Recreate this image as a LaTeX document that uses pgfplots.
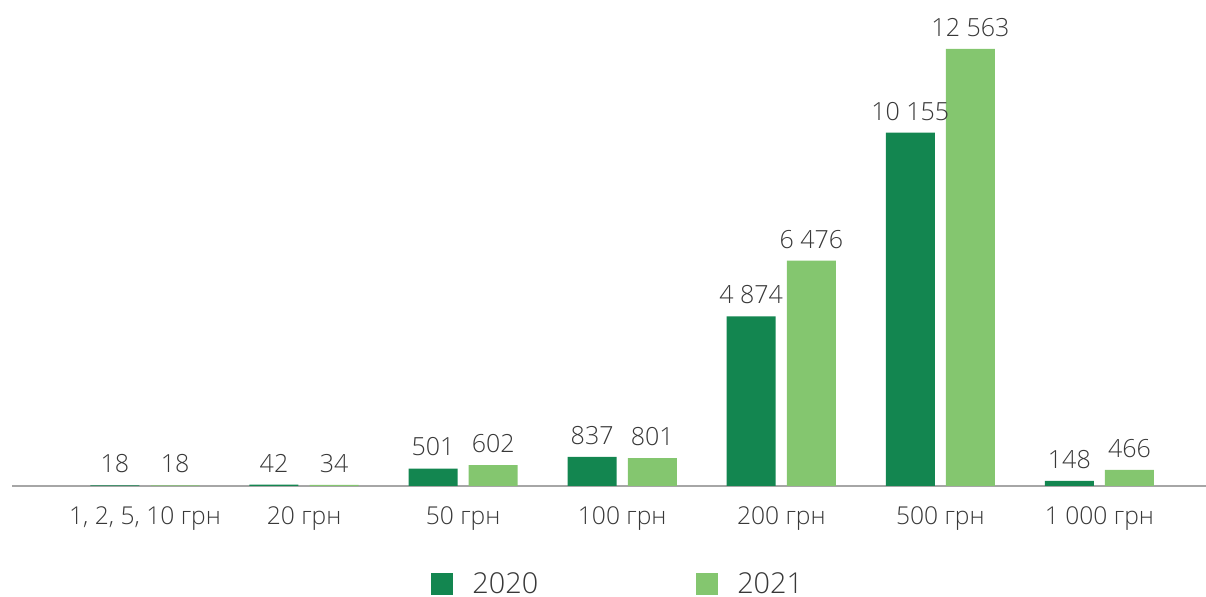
\documentclass[border=0pt]{standalone}
\usepackage{pgfplots}
\pgfplotsset{compat=1.18}
\usepackage{fontspec}
\setmainfont{Open Sans Light}
\definecolor{dg}{HTML}{138650}
\definecolor{lg}{HTML}{84C66F}
\definecolor{tx}{HTML}{383838}
\definecolor{axc}{HTML}{A6A6A6}
\pgfplotstableread{
x y2020 y2021
0 18 18
1 42 34
2 501 602
3 837 801
4 4874 6476
5 10155 12563
6 148 466
}\datatable
\begin{document}
\begin{tikzpicture}
\path[use as bounding box] (0pt,0pt) rectangle (603pt,298.5pt);
\begin{axis}[
  at={(6pt,55.5pt)}, anchor=south west,
  scale only axis, width=597pt, height=226.1pt,
  xmin=-0.836, xmax=6.67, ymin=0, ymax=13000,
  axis x line=bottom, axis y line=none,
  x axis line style={-, draw=axc, line width=1pt},
  xtick={0,...,6},
  xticklabels={{1, 2, 5, 10 грн},{20 грн},{50 грн},{100 грн},{200 грн},{500 грн},{1 000 грн}},
  major tick length=0pt,
  xticklabel style={font=\fontsize{12.3}{14}\selectfont, text=tx, yshift=-7pt},
  ytick=\empty,
  ybar, bar width=0.308,
  /pgf/number format/assume math mode=true,
  /pgf/number format/1000 sep={\ },
  nodes near coords,
  nodes near coords style={font=\fontsize{12.5}{15}\selectfont, text=tx, yshift=2.7pt},
  legend columns=2,
  legend style={at={(0.351,-0.217)}, anchor=west, draw=none, fill=none, inner sep=0pt,
    font=\fontsize{14.4}{17}\selectfont, text=tx,
    /tikz/every odd column/.append style={column sep=7.5pt},
    /tikz/every even column/.append style={column sep=77pt}},
  legend image code/.code={\fill[#1] (0pt,-5.5pt) rectangle (11pt,5.5pt);},
]
\addplot[fill=dg, draw=none, bar shift=-0.189] table[x=x, y=y2020] {\datatable};
\addplot[fill=lg, draw=none, bar shift=0.189] table[x=x, y=y2021] {\datatable};
\legend{2020, 2021}
\end{axis}
\end{tikzpicture}
\end{document}
